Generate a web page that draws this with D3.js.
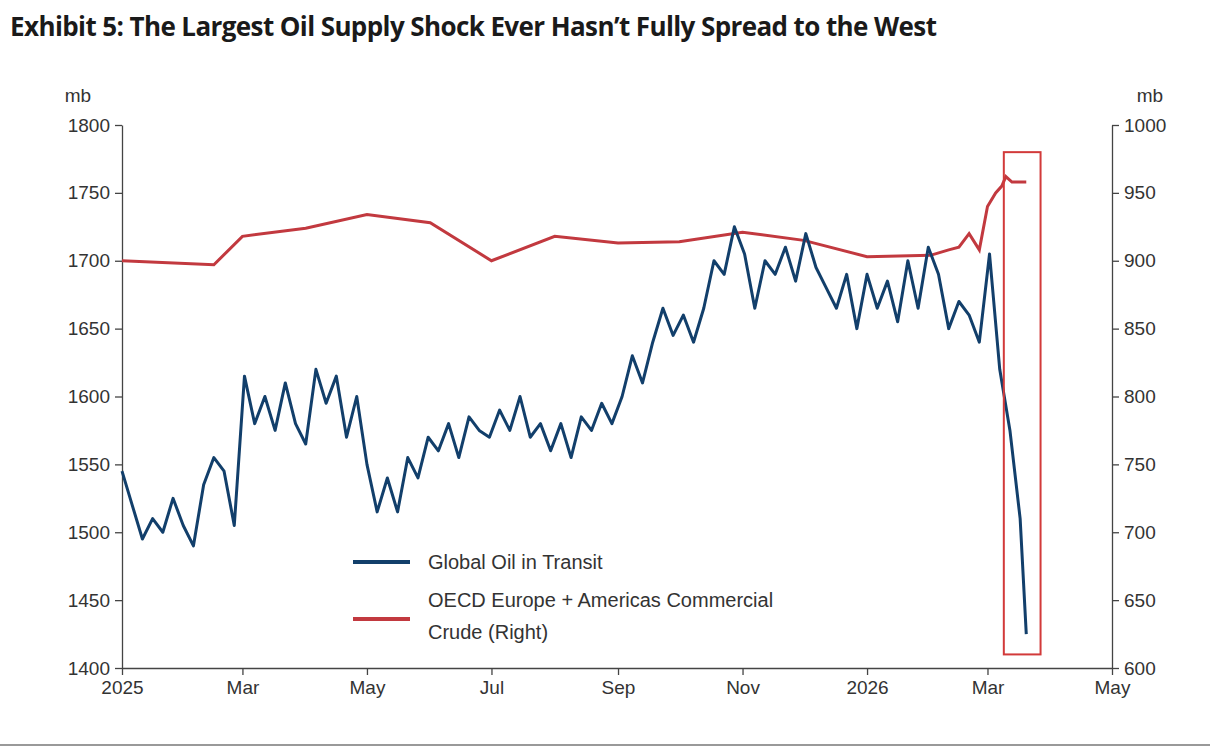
<!DOCTYPE html>
<html>
<head>
<meta charset="utf-8">
<script src="https://cdn.jsdelivr.net/npm/d3@7"></script>
<style>
body { margin: 0; background: #fff; }
svg { font-family: "Liberation Sans", Arial, sans-serif; }
</style>
</head>
<body>
<script>
// blue series: one value every 5 days from 1 Jan 2025, plus a last point
var transitStart = "2025-01-01";
var transitStepDays = 5;
var transitValues = [
    1545, 1520, 1495, 1510, 1500, 1525, 1505, 1490, 1535, 1555, 1545, 1505,
    1615, 1580, 1600, 1575, 1610, 1580, 1565, 1620, 1595, 1615, 1570, 1600,
    1550, 1515, 1540, 1515, 1555, 1540, 1570, 1560, 1580, 1555, 1585, 1575,
    1570, 1590, 1575, 1600, 1570, 1580, 1560, 1580, 1555, 1585, 1575, 1595,
    1580, 1600, 1630, 1610, 1640, 1665, 1645, 1660, 1640, 1665, 1700, 1690,
    1725, 1705, 1665, 1700, 1690, 1710, 1685, 1720, 1695, 1680, 1665, 1690,
    1650, 1690, 1665, 1685, 1655, 1700, 1665, 1710, 1690, 1650, 1670, 1660,
    1640, 1705, 1620, 1575, 1510
];
var transitLastDate = "2026-03-20";
var transitLastValue = 1425;

// red series (right axis)
var crudeDates = ["2025-01-01", "2025-02-15", "2025-03-01", "2025-04-01", "2025-05-01",
    "2025-06-01", "2025-07-01", "2025-08-01", "2025-09-01", "2025-10-01", "2025-11-01",
    "2025-12-01", "2026-01-01", "2026-02-01", "2026-02-10", "2026-02-15", "2026-02-20",
    "2026-02-25", "2026-03-01", "2026-03-05", "2026-03-08", "2026-03-10", "2026-03-13",
    "2026-03-16", "2026-03-20"];
var crudeValues = [900, 897, 918, 924, 934, 928, 900, 918, 913, 914, 921, 915, 903, 904,
    908, 910, 920, 908, 940, 950, 955, 962, 958, 958, 958];

var leftTicks = [1400, 1450, 1500, 1550, 1600, 1650, 1700, 1750, 1800];
var rightTicks = [600, 650, 700, 750, 800, 850, 900, 950, 1000];
var xTickDates = ["2025-01-01", "2025-03-01", "2025-05-01", "2025-07-01", "2025-09-01",
    "2025-11-01", "2026-01-01", "2026-03-01", "2026-05-01"];
var xTickLabels = ["2025", "Mar", "May", "Jul", "Sep", "Nov", "2026", "Mar", "May"];

var parse = d3.utcParse("%Y-%m-%d");
var start = parse(transitStart);
var transit = transitValues.map(function(v, i) {
    return { date: d3.utcDay.offset(start, i * transitStepDays), value: v };
});
transit.push({ date: parse(transitLastDate), value: transitLastValue });
var crude = crudeDates.map(function(d, i) { return { date: parse(d), value: crudeValues[i] }; });

var width = 1210, height = 750;
var plotLeft = 122, plotRight = 1112, plotTop = 125, plotBottom = 668;

var svg = d3.select("body").append("svg").attr("width", width).attr("height", height);

svg.append("text").attr("x", 10).attr("y", 36)
    .attr("font-family", "'Open Sans', sans-serif").attr("font-weight", "bold")
    .attr("font-size", 26).attr("fill", "#1a1a1a").attr("letter-spacing", -0.6)
    .text("Exhibit 5: The Largest Oil Supply Shock Ever Hasn\u2019t Fully Spread to the West");

var x = d3.scaleUtc().domain([parse("2025-01-01"), parse("2026-05-01")]).range([plotLeft, plotRight]);
var yL = d3.scaleLinear().domain([1400, 1800]).range([plotBottom, plotTop]);
var yR = d3.scaleLinear().domain([600, 1000]).range([plotBottom, plotTop]);

function styleAxis(g) {
    g.selectAll("path, line").attr("stroke", "#444").attr("stroke-width", 1.3);
    g.selectAll("text").attr("font-size", 19).attr("fill", "#333")
        .attr("font-family", "'Liberation Sans', Arial, sans-serif");
}

svg.append("g").attr("transform", "translate(" + plotLeft + ",0)")
    .call(d3.axisLeft(yL).tickValues(leftTicks).tickFormat(d3.format("d"))
        .tickSize(7).tickSizeOuter(0).tickPadding(5))
    .call(styleAxis);
svg.append("g").attr("transform", "translate(" + plotRight + ",0)")
    .call(d3.axisRight(yR).tickValues(rightTicks).tickFormat(d3.format("d"))
        .tickSize(7).tickSizeOuter(0).tickPadding(5))
    .call(styleAxis);
svg.append("g").attr("transform", "translate(0," + plotBottom + ")")
    .call(d3.axisBottom(x).tickValues(xTickDates.map(parse)).tickSize(7).tickSizeOuter(0).tickPadding(6)
        .tickFormat(function(d, i) { return xTickLabels[i]; }))
    .call(styleAxis);

svg.append("text").attr("x", 78).attr("y", 102).attr("text-anchor", "middle")
    .attr("font-size", 19).attr("fill", "#333").text("mb");
svg.append("text").attr("x", 1150).attr("y", 102).attr("text-anchor", "middle")
    .attr("font-size", 19).attr("fill", "#333").text("mb");

var blue = "#123f6b", red = "#c2393f";

svg.append("path").datum(crude)
    .attr("fill", "none").attr("stroke", red).attr("stroke-width", 3)
    .attr("d", d3.line().x(function(d) { return x(d.date); }).y(function(d) { return yR(d.value); }));

svg.append("path").datum(transit)
    .attr("fill", "none").attr("stroke", blue).attr("stroke-width", 3).attr("stroke-linejoin", "round")
    .attr("d", d3.line().x(function(d) { return x(d.date); }).y(function(d) { return yL(d.value); }));

// highlight box
svg.append("rect")
    .attr("x", x(parse("2026-03-09"))).attr("y", yR(980))
    .attr("width", x(parse("2026-03-27")) - x(parse("2026-03-09")))
    .attr("height", yR(610) - yR(980))
    .attr("fill", "none").attr("stroke", "#d23a3a").attr("stroke-width", 2);

// legend
var lg = svg.append("g");
lg.append("line").attr("x1", 353).attr("x2", 410).attr("y1", 562).attr("y2", 562)
    .attr("stroke", blue).attr("stroke-width", 4);
lg.append("text").attr("x", 428).attr("y", 569).attr("font-size", 20).attr("fill", "#333")
    .text("Global Oil in Transit");
lg.append("line").attr("x1", 353).attr("x2", 410).attr("y1", 619).attr("y2", 619)
    .attr("stroke", red).attr("stroke-width", 4);
lg.append("text").attr("x", 428).attr("y", 607).attr("font-size", 20).attr("fill", "#333")
    .text("OECD Europe + Americas Commercial");
lg.append("text").attr("x", 428).attr("y", 639).attr("font-size", 20).attr("fill", "#333")
    .text("Crude (Right)");

svg.append("line").attr("x1", 0).attr("x2", width).attr("y1", 745).attr("y2", 745)
    .attr("stroke", "#999").attr("stroke-width", 2);
</script>
</body>
</html>
